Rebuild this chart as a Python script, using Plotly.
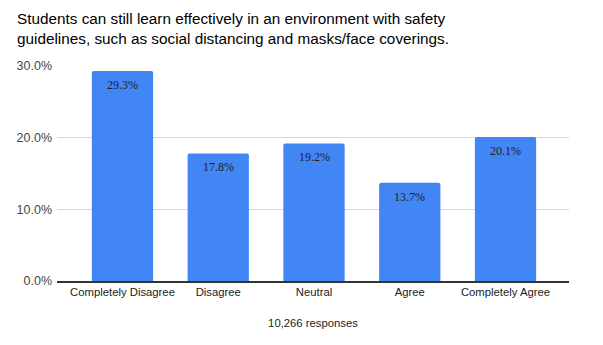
import plotly.graph_objects as go

categories = ["Completely Disagree", "Disagree", "Neutral", "Agree", "Completely Agree"]
shares = [29.3, 17.8, 19.2, 13.7, 20.1]
y_ticks = [0, 10, 20, 30]
y_tick_labels = ["0.0%", "10.0%", "20.0%", "30.0%"]

title_text = ("Students can still learn effectively in an environment with safety<br>"
              "guidelines, such as social distancing and masks/face coverings.")
x_title = "10,266 responses"

xs = list(range(len(categories)))

fig = go.Figure(
    go.Bar(
        x=xs,
        y=shares,
        width=0.64,
        marker=dict(color="#4285F4", cornerradius=2, line=dict(width=0)),
        hoverinfo="skip",
    )
)

# value labels just inside the top of each bar
for xi, v in zip(xs, shares):
    fig.add_annotation(
        x=xi, y=v, xref="x", yref="y",
        text=f"{v:.1f}%",
        showarrow=False,
        yanchor="top",
        yshift=-5,
        font=dict(family="Liberation Serif", size=12, color="#222222"),
    )

# chart title, two lines, left-aligned
fig.add_annotation(
    x=-0.082, y=1.272, xref="paper", yref="paper",
    xanchor="left", yanchor="top", align="left",
    text=title_text,
    showarrow=False,
    font=dict(family="Liberation Sans, Arial, sans-serif", size=15.3, color="#000000"),
)

fig.update_layout(
    width=603,
    height=345,
    margin=dict(l=57, r=34, t=66, b=64),
    paper_bgcolor="white",
    plot_bgcolor="white",
    showlegend=False,
    font=dict(family="Liberation Sans, Arial, sans-serif", size=11, color="#444444"),
    xaxis=dict(
        tickmode="array",
        tickvals=xs,
        ticktext=categories,
        range=[-0.684, 4.663],
        showgrid=False,
        showline=True,
        linecolor="#333333",
        linewidth=1.5,
        ticks="",
        tickfont=dict(size=11.3, color="#222222"),
        title=dict(text=x_title, font=dict(size=11.3, color="#222222"), standoff=22),
        fixedrange=True,
    ),
    yaxis=dict(
        range=[0, 30],
        tickmode="array",
        tickvals=y_ticks,
        ticktext=y_tick_labels,
        showgrid=True,
        gridcolor="#d9d9d9",
        gridwidth=1,
        zeroline=False,
        ticks="",
        ticklabelstandoff=4,
        tickfont=dict(size=12.5, color="#444444"),
        fixedrange=True,
    ),
)

fig.write_html("out.html")
